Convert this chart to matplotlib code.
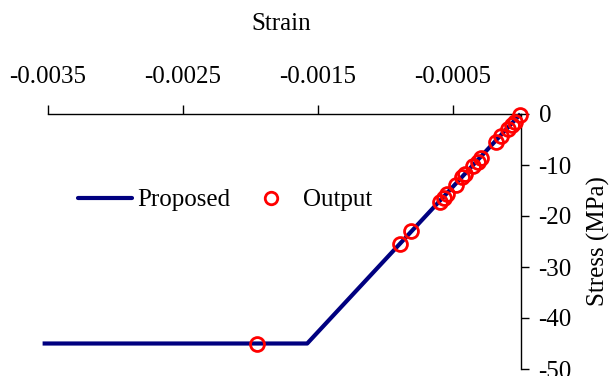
import matplotlib
matplotlib.use("Agg")
import matplotlib.pyplot as plt
from matplotlib.lines import Line2D

plt.rcParams['font.family'] = ['Liberation Serif', 'DejaVu Serif']
plt.rcParams['font.size'] = 18

# Proposed bilinear stress-strain model
model_strain = [-0.00354, -0.00158, 0.0]
model_stress = [-45.0, -45.0, 0.0]

# Output points
out_strain = [-0.00195, -0.000893, -0.000811, -0.000596, -0.000567, -0.000542,
              -0.000478, -0.000436, -0.000411, -0.000354, -0.000317, -0.000295,
              -0.000181, -0.000147, -0.00009, -0.000065, -0.00004, -0.000004]
out_stress = [-45.0, -25.4, -22.9, -17.2, -16.4, -15.7,
              -13.9, -12.4, -11.8, -10.2, -9.35, -8.7,
              -5.4, -4.4, -2.9, -2.2, -1.5, -0.2]

x_ticks = [-0.0035, -0.0025, -0.0015, -0.0005]
x_tick_labels = ['-0.0035', '-0.0025', '-0.0015', '-0.0005']
y_ticks = [0, -10, -20, -30, -40, -50]
y_tick_labels = ['0', '-10', '-20', '-30', '-40', '-50']

W, H = 610, 376
fig = plt.figure(figsize=(W / 100, H / 100), dpi=100)
left_px, right_px, top_px, bot_px = 42.6, 520.5, 114, 369
ax = fig.add_axes([left_px / W, 1 - bot_px / H, (right_px - left_px) / W, (bot_px - top_px) / H])
ax.set_xlim(-0.00354, 0)
ax.set_ylim(-50, 0)
ax.patch.set_visible(False)

navy = '#000080'
ax.plot(model_strain, model_stress, color=navy, lw=3.0, solid_capstyle='butt',
        clip_on=False, zorder=2)
ax.plot(out_strain, out_stress, ls='none', marker='o', ms=10, mfc='none', mec='red',
        mew=2.0, clip_on=False, zorder=3)

for s in ['left', 'bottom']:
    ax.spines[s].set_visible(False)
ax.spines['top'].set_bounds(-0.0035, 0)
ax.spines['right'].set_bounds(-50, 0)
for s in ['top', 'right']:
    ax.spines[s].set_linewidth(1.0)
    ax.spines[s].set_color('black')

ax.xaxis.set_ticks_position('top')
ax.xaxis.set_label_position('top')
ax.set_xticks(x_ticks)
ax.set_xticklabels(x_tick_labels)
ax.tick_params(axis='x', direction='out', length=6.5, width=1.0, pad=12)

ax.yaxis.set_ticks_position('right')
ax.yaxis.set_label_position('right')
ax.set_yticks(y_ticks)
ax.set_yticklabels(y_tick_labels)
ax.tick_params(axis='y', direction='out', length=6, width=1.0, pad=7)

ax.set_xlabel('Strain', labelpad=26)
ax.set_ylabel('Stress (MPa)', labelpad=11)

# legend entries
yl = 1 - 200 / H
h1 = Line2D([], [], color=navy, lw=3.0, solid_capstyle='round')
fig.legend([h1], ['Proposed'], loc='center left', frameon=False,
           bbox_to_anchor=(78 / W, yl), bbox_transform=fig.transFigure,
           borderpad=0, borderaxespad=0, handlelength=2.15, handletextpad=0.2)
h2 = Line2D([], [], ls='none', marker='o', ms=9, mfc='none', mec='red', mew=2.0)
fig.legend([h2], ['Output'], loc='center left', frameon=False,
           bbox_to_anchor=(263 / W, yl), bbox_transform=fig.transFigure,
           borderpad=0, borderaxespad=0, handlelength=0.6, handletextpad=1.0)

fig.savefig('out.png', dpi=100)
